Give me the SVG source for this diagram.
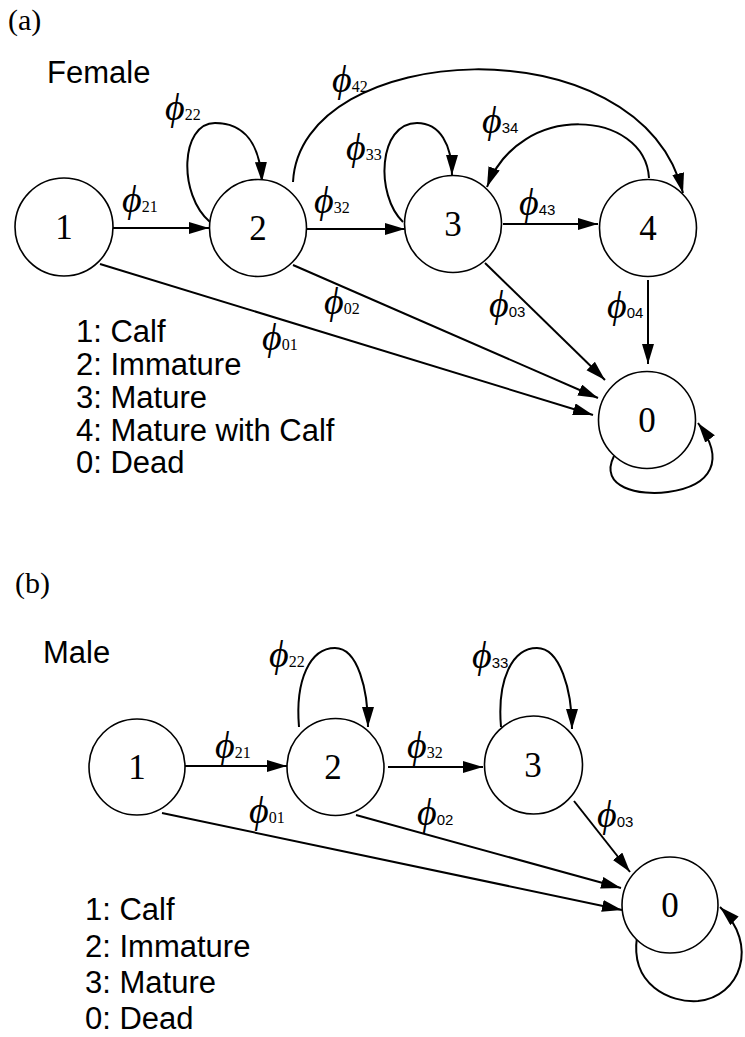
<svg xmlns="http://www.w3.org/2000/svg" width="745" height="1037" viewBox="0 0 745 1037">
<style>
.node circle{fill:#fff;stroke:#000;stroke-width:1.6}
.num{font-family:"Liberation Serif","Times New Roman",serif;font-size:35px;text-anchor:middle;fill:#000}
.edge{fill:none;stroke:#000;stroke-width:2;marker-end:url(#ah)}
.phi{font-family:"Liberation Serif","DejaVu Serif",serif;font-style:italic;font-size:38px;fill:#000}
.sub{font-family:"Liberation Serif","Times New Roman",serif;font-style:normal;font-size:16px}
.subs{font-family:"Liberation Sans",Arial,sans-serif;font-style:normal;font-size:15px}
.leg{font-family:"Liberation Sans",Arial,sans-serif;font-size:31px;fill:#000}
.title{font-family:"Liberation Sans",Arial,sans-serif;font-size:31px;fill:#000}
.panel{font-family:"Liberation Serif","Times New Roman",serif;font-size:30px;fill:#000}
</style>
<defs>
<marker id="ah" markerUnits="userSpaceOnUse" markerWidth="22" markerHeight="14" refX="20" refY="6" orient="auto">
<path d="M0,0 L20,6 L0,12 z" fill="#000"/>
</marker>
</defs>
<rect width="745" height="1037" fill="#fff"/>

<text class="panel" x="8" y="30">(a)</text>
<text class="title" x="47" y="83">Female</text>

<g id="connectors-a">
<path class="edge" d="M113 228 L209 228"/>
<path class="edge" d="M307 229 L405 229"/>
<path class="edge" d="M503 224 L598 224"/>
<path class="edge" d="M648 280 L648 364"/>
<path class="edge" d="M485 263 L605 380"/>
<path class="edge" d="M293 265 L598 398"/>
<path class="edge" d="M100 264 L593 415"/>
<path class="edge" d="M210 222 C178 195 180 123 215 123 C245 123 260 145 262 182"/>
<path class="edge" d="M403 222 C375 195 378 123 417 123 C440 123 452 145 452 175"/>
<path class="edge" d="M649 178 C645 110 520 100 487 187"/>
<path class="edge" d="M293 182 C300 40 640 20 683 193"/>
<path class="edge" d="M614 456 C598 488 640 496 668 492 C712 486 726 460 698 423"/>
</g>

<g id="a-node1" class="node"><circle cx="64" cy="227" r="49"/><text class="num" x="64" y="239">1</text></g>
<g id="a-node2" class="node"><circle cx="258" cy="228" r="48.5"/><text class="num" x="258" y="240">2</text></g>
<g id="a-node3" class="node"><circle cx="453" cy="224" r="48.5"/><text class="num" x="453" y="236">3</text></g>
<g id="a-node4" class="node"><circle cx="648" cy="228" r="48.5"/><text class="num" x="648" y="240">4</text></g>
<g id="a-node0" class="node"><circle cx="647" cy="420" r="48.5"/><text class="num" x="647" y="432">0</text></g>

<g id="labels-a">
<text class="phi" x="122" y="212">ϕ<tspan class="sub">21</tspan></text>
<text class="phi" x="165" y="120">ϕ<tspan class="sub">22</tspan></text>
<text class="phi" x="332" y="92">ϕ<tspan class="sub">42</tspan></text>
<text class="phi" x="346" y="160">ϕ<tspan class="sub">33</tspan></text>
<text class="phi" x="314" y="213">ϕ<tspan class="sub">32</tspan></text>
<text class="phi" x="482" y="133">ϕ<tspan class="subs">34</tspan></text>
<text class="phi" x="519" y="215">ϕ<tspan class="subs">43</tspan></text>
<text class="phi" x="489" y="317">ϕ<tspan class="subs">03</tspan></text>
<text class="phi" x="607" y="318">ϕ<tspan class="subs">04</tspan></text>
<text class="phi" x="324" y="314">ϕ<tspan class="sub">02</tspan></text>
<text class="phi" x="262" y="350">ϕ<tspan class="sub">01</tspan></text>
</g>

<g id="legend-a">
<text class="leg" x="76" y="342">1: Calf</text>
<text class="leg" x="76" y="375">2: Immature</text>
<text class="leg" x="76" y="408">3: Mature</text>
<text class="leg" x="76" y="441">4: Mature with Calf</text>
<text class="leg" x="76" y="473">0: Dead</text>
</g>

<text class="panel" x="15" y="593">(b)</text>
<text class="title" x="43" y="663">Male</text>

<g id="connectors-b">
<path class="edge" d="M185 766 L287 766"/>
<path class="edge" d="M388 767 L483 767"/>
<path class="edge" d="M574 801 L630 872"/>
<path class="edge" d="M356 815 L621 888"/>
<path class="edge" d="M162 813 L622 910"/>
<path class="edge" d="M299 727 C295 680 310 648 335 648 C358 648 368 690 368 727"/>
<path class="edge" d="M501 727 C497 680 512 648 537 648 C560 648 572 690 572 729"/>
<path class="edge" d="M637 937 C630 985 670 1003 698 1001 C740 997 760 945 720 907"/>
</g>

<g id="b-node1" class="node"><circle cx="137" cy="767" r="48"/><text class="num" x="137" y="779">1</text></g>
<g id="b-node2" class="node"><circle cx="335.5" cy="767" r="48.5"/><text class="num" x="333" y="779">2</text></g>
<g id="b-node3" class="node"><circle cx="533.5" cy="765" r="49"/><text class="num" x="533" y="777">3</text></g>
<g id="b-node0" class="node"><circle cx="670" cy="905" r="48"/><text class="num" x="670" y="917">0</text></g>

<g id="labels-b">
<text class="phi" x="269" y="667">ϕ<tspan class="sub">22</tspan></text>
<text class="phi" x="215" y="758">ϕ<tspan class="sub">21</tspan></text>
<text class="phi" x="407" y="758">ϕ<tspan class="sub">32</tspan></text>
<text class="phi" x="472" y="668">ϕ<tspan class="subs">33</tspan></text>
<text class="phi" x="417" y="825">ϕ<tspan class="subs">02</tspan></text>
<text class="phi" x="249" y="823">ϕ<tspan class="sub">01</tspan></text>
<text class="phi" x="597" y="827">ϕ<tspan class="subs">03</tspan></text>
</g>

<g id="legend-b">
<text class="leg" x="85" y="920">1: Calf</text>
<text class="leg" x="85" y="957">2: Immature</text>
<text class="leg" x="85" y="993">3: Mature</text>
<text class="leg" x="85" y="1029">0: Dead</text>
</g>
</svg>
